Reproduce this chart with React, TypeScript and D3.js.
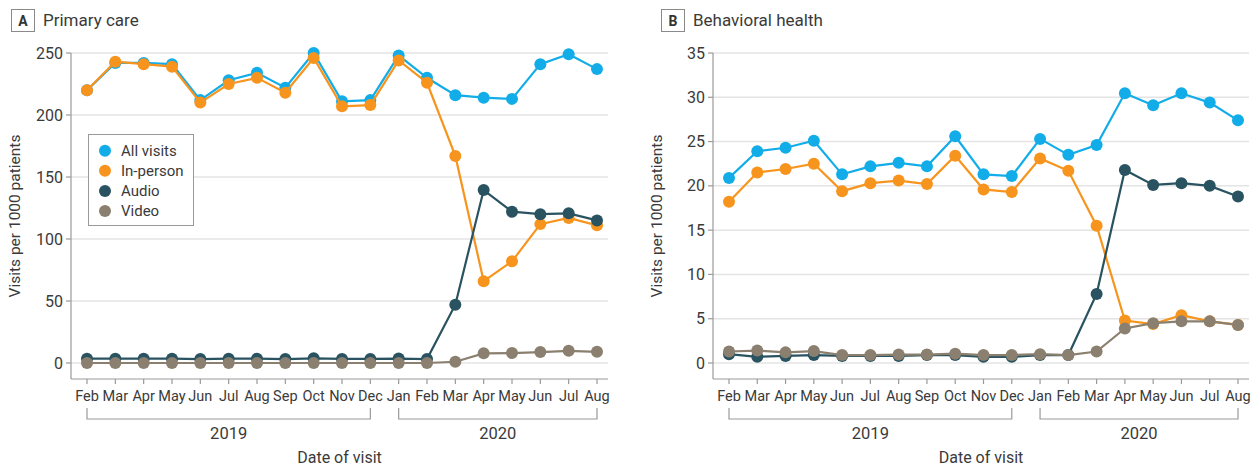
import React from "react";
import * as d3 from "d3";

const months = ["Feb","Mar","Apr","May","Jun","Jul","Aug","Sep","Oct","Nov","Dec","Jan","Feb","Mar","Apr","May","Jun","Jul","Aug"];
const yearGroups = [
  { label: "2019", start: 0, end: 10 },
  { label: "2020", start: 11, end: 18 },
];
const seriesNames = ["All visits", "In-person", "Audio", "Video"];
const seriesColors = ["#12ADE8", "#F7941D", "#2A5361", "#8B8070"];

// Panel A: Primary care
const pcAll = [220,242,242,241,212,228,234,222,250,211,212,248,230,216,214,213,241,249,237];
const pcInPerson = [220,243,241,239,210,225,230,218,246,207,208,244,226,167,66,82,112,117,111];
const pcAudio = [3.5,3.5,3.5,3.5,3.2,3.5,3.5,3.2,3.8,3.3,3.3,3.6,3.2,47,139.5,122,120,120.7,115];
const pcVideo = [0,0,0,0,0,0,0,0,0,0,0,0,0,1,7.8,8,8.8,9.8,9];
const pcTicks = [0,50,100,150,200,250];

// Panel B: Behavioral health
const bhAll = [20.9,23.9,24.3,25.1,21.3,22.2,22.6,22.2,25.6,21.3,21.1,25.3,23.5,24.6,30.45,29.1,30.45,29.4,27.4];
const bhInPerson = [18.2,21.5,21.9,22.5,19.4,20.3,20.6,20.2,23.4,19.6,19.3,23.1,21.7,15.5,4.8,4.4,5.4,4.7,4.3];
const bhAudio = [1.0,0.7,0.8,0.9,0.8,0.8,0.8,0.9,0.9,0.7,0.7,0.9,0.9,7.8,21.8,20.1,20.3,20.0,18.8];
const bhVideo = [1.3,1.4,1.2,1.35,0.9,0.9,0.95,0.95,1.05,0.9,0.9,1.0,0.9,1.3,3.9,4.5,4.7,4.7,4.3];
const bhTicks = [0,5,10,15,20,25,30,35];

const FONT = "Roboto, 'Liberation Sans', sans-serif";
const NARROW = "'Liberation Sans Narrow', 'Arial Narrow', Roboto, sans-serif";
const TEXT = "#3a3a3a";
const AXIS = "#9a9a9a";
const GRID = "#e4e4e4";

type PanelProps = {
  left: number;
  right: number;
  titleX: number;
  letter: string;
  title: string;
  series: number[][];
  yMax: number;
  ticks: number[];
  legend?: boolean;
};

function Panel({ left, right, titleX, letter, title, series, yMax, ticks, legend }: PanelProps) {
  const top = 53;
  const zeroY = 363;
  const bottom = 379;
  const y = d3.scaleLinear().domain([0, yMax]).range([zeroY, top]);
  const x = d3.scaleLinear().domain([0, months.length - 1]).range([left + 16, right - 11]);
  const line = d3.line<number>().x((_, i) => x(i)).y((d) => y(d));
  const cx = (left + right) / 2;

  return (
    <g>
      {/* title */}
      <rect x={titleX + 0.5} y={9.5} width={23} height={22} fill="#fff" stroke="#8a8a8a" strokeWidth={1} />
      <text x={titleX + 12} y={26} textAnchor="middle" fontFamily={FONT} fontWeight="bold" fontSize={14} fill="#333">{letter}</text>
      <text x={titleX + 32} y={26} fontFamily={FONT} fontSize={17} fill={TEXT}>{title}</text>

      {/* gridlines */}
      {ticks.map((t) => (
        <line key={"g" + t} x1={left} x2={right} y1={y(t)} y2={y(t)} stroke={GRID} strokeWidth={1.5} />
      ))}
      {/* y axis */}
      <line x1={left} x2={left} y1={top} y2={bottom} stroke={AXIS} strokeWidth={1.2} />
      {ticks.map((t) => (
        <g key={"t" + t}>
          <line x1={left - 5} x2={left} y1={y(t)} y2={y(t)} stroke={AXIS} strokeWidth={1.2} />
          <text x={left - 8} y={y(t)} dy="0.35em" textAnchor="end" fontFamily={FONT} fontSize={16} fill={TEXT}>{t}</text>
        </g>
      ))}
      <text transform={`translate(${left - 51},${(top + bottom) / 2}) rotate(-90)`} textAnchor="middle" fontFamily={FONT} fontSize={15.5} fill={TEXT}>
        Visits per 1000 patients
      </text>

      {/* x axis */}
      <line x1={left} x2={right} y1={bottom} y2={bottom} stroke={AXIS} strokeWidth={1.2} />
      {months.map((m, i) => (
        <g key={"m" + i}>
          <line x1={x(i)} x2={x(i)} y1={bottom} y2={bottom + 5} stroke={AXIS} strokeWidth={1.2} />
          <text x={x(i)} y={401} textAnchor="middle" fontFamily={NARROW} fontSize={14.5} fill={TEXT}>{m}</text>
        </g>
      ))}
      {yearGroups.map((g) => (
        <g key={g.label}>
          <path
            d={`M${x(g.start)},408 V419 H${x(g.end)} V408`}
            fill="none"
            stroke={AXIS}
            strokeWidth={1.2}
          />
          <text x={(x(g.start) + x(g.end)) / 2} y={439} textAnchor="middle" fontFamily={FONT} fontSize={16.5} fill={TEXT}>{g.label}</text>
        </g>
      ))}
      <text x={cx} y={463} textAnchor="middle" fontFamily={FONT} fontSize={16} fill={TEXT}>Date of visit</text>

      {/* series */}
      {series.map((s, k) => (
        <g key={"s" + k}>
          <path d={line(s) || ""} fill="none" stroke={seriesColors[k]} strokeWidth={2.2} />
          {s.map((v, i) => (
            <circle key={i} cx={x(i)} cy={y(v)} r={6} fill={seriesColors[k]} />
          ))}
        </g>
      ))}

      {legend && (
        <g>
          <rect x={88.5} y={134.5} width={105} height={91} fill="#fff" stroke="#9a9a9a" strokeWidth={1} />
          {seriesNames.map((n, k) => (
            <g key={n}>
              <circle cx={105} cy={150.7 + k * 20.1} r={6} fill={seriesColors[k]} />
              <text x={121} y={150.7 + k * 20.1} dy="0.36em" fontFamily={FONT} fontSize={15} fill={TEXT}>{n}</text>
            </g>
          ))}
        </g>
      )}
    </g>
  );
}

export default function App() {
  return (
    <svg
      width={1255}
      height={468}
      viewBox="0 0 1255 468"
      style={{ position: "absolute", left: 0, top: 0, background: "#fff" }}
    >
      <rect width={1255} height={468} fill="#fff" />
      <Panel
        left={71}
        right={608}
        titleX={11}
        letter="A"
        title="Primary care"
        series={[pcAll, pcInPerson, pcAudio, pcVideo]}
        yMax={250}
        ticks={pcTicks}
        legend
      />
      <Panel
        left={713}
        right={1249}
        titleX={661}
        letter="B"
        title="Behavioral health"
        series={[bhAll, bhInPerson, bhAudio, bhVideo]}
        yMax={35}
        ticks={bhTicks}
      />
    </svg>
  );
}
